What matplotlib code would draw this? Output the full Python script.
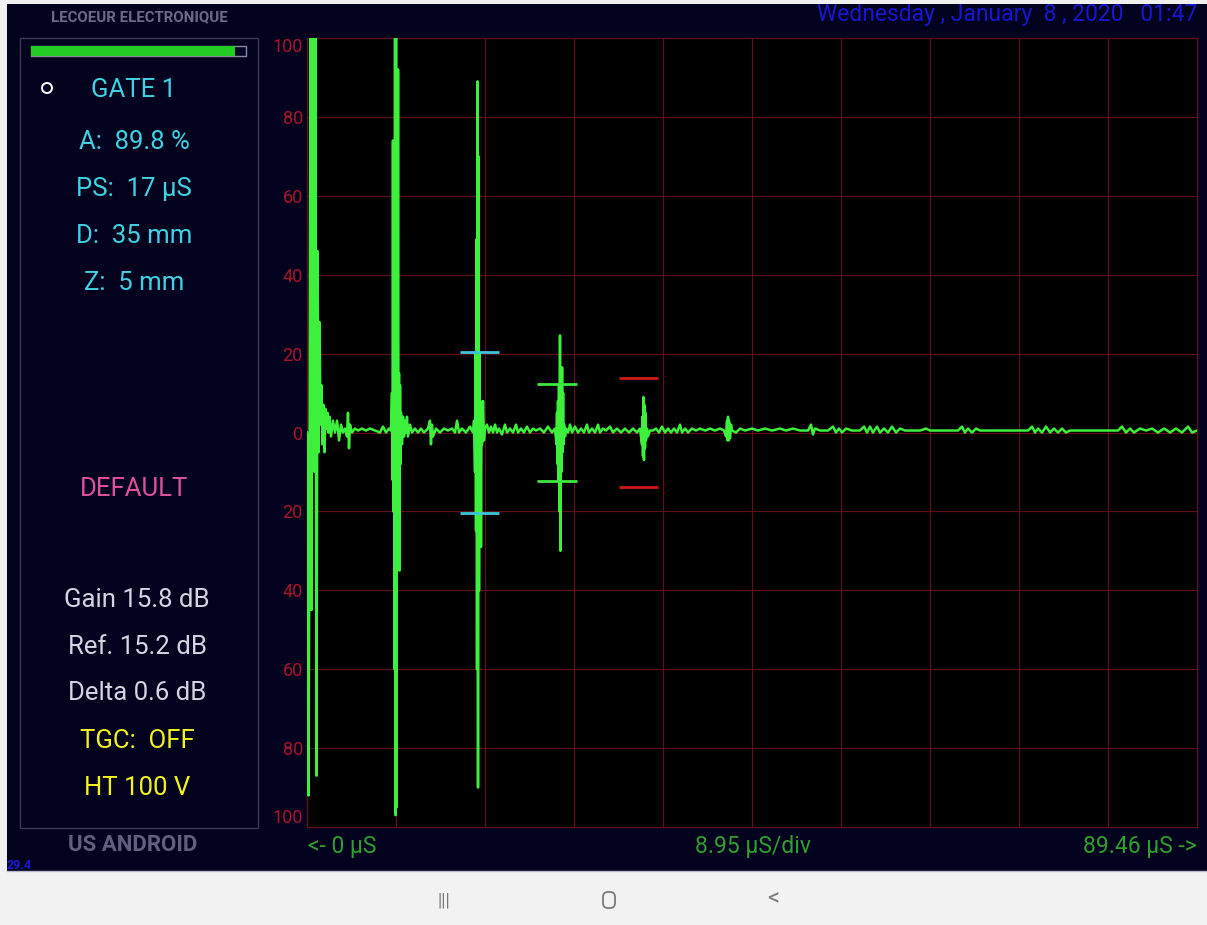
import matplotlib
matplotlib.use("Agg")
import matplotlib.pyplot as plt
from matplotlib import font_manager as fm
from matplotlib.patches import Rectangle, Circle, FancyBboxPatch

# --- data ---
full_scale_us = 89.46
div_us = 8.95
y_ticks = [-100, -80, -60, -40, -20, 0, 20, 40, 60, 80, 100]

# A-scan trace: time (us) and amplitude (% screen height)
trace_t = [
    0.00, 0.10, 0.15, 0.25, 0.35, 0.45, 0.55, 0.65, 0.75, 0.85, 0.95, 1.06, 1.16, 1.26, 1.36, 1.46,
    1.56, 1.66, 1.76, 1.86, 1.96, 2.06, 2.16, 2.26, 2.41, 2.61, 2.81, 3.02, 3.22, 3.42, 3.62, 3.82,
    4.02, 4.12, 4.22, 4.32, 4.52, 4.82, 5.13, 5.53, 5.93, 6.33, 6.84, 7.34, 7.64, 7.94, 8.24, 8.44,
    8.54, 8.59, 8.64, 8.69, 8.75, 8.80, 8.85, 8.90, 8.95, 9.00, 9.05, 9.10, 9.15, 9.20, 9.25, 9.30,
    9.35, 9.40, 9.45, 9.55, 9.65, 9.75, 9.85, 9.95, 10.05, 10.15, 10.35, 10.55, 10.85, 11.16, 11.46,
    11.76, 12.16, 12.36, 12.46, 12.56, 12.66, 12.97, 13.37, 13.77, 14.17, 14.58, 14.88, 15.08, 15.28,
    15.58, 15.98, 16.38, 16.68,
    16.79, 16.89, 16.94, 16.99, 17.04, 17.09, 17.14, 17.19, 17.24, 17.29, 17.34, 17.39, 17.44, 17.49,
    17.54, 17.59, 17.69, 17.79, 17.89, 18.09, 18.29, 18.49, 18.70, 18.90, 19.10, 19.30, 19.60, 19.90,
    20.10, 20.41, 20.71, 21.01, 21.21, 21.51, 21.81, 22.11, 22.41, 22.72, 23.02, 23.42, 23.82, 24.22,
    24.62, 24.92,
    25.08, 25.13, 25.18, 25.23, 25.28, 25.33, 25.38, 25.43, 25.48, 25.53, 25.58, 25.64, 25.69, 25.74,
    25.79, 25.84, 25.94, 26.04, 26.24, 26.44, 26.64, 26.94, 27.24, 27.54, 27.84, 28.14, 28.34, 28.65,
    28.95, 29.25, 29.45, 29.75, 30.05, 30.46, 30.76, 31.16, 31.56, 31.96, 32.37, 32.77, 33.17, 33.47,
    33.67, 33.72, 33.77, 33.82, 33.87, 33.92, 33.97, 34.02, 34.07, 34.17, 34.27, 34.47, 34.78, 35.08,
    35.38, 35.68, 35.99, 36.29, 36.59, 36.89, 37.19, 37.49, 37.70, 38.00, 38.30, 38.70, 39.10, 39.50,
    40.01, 40.51, 41.01, 41.51, 41.92,
    42.12, 42.22, 42.27, 42.32, 42.37, 42.42, 42.52, 42.62, 42.72, 43.12, 43.53, 44.03, 44.73, 45.33,
    46.04, 46.74, 47.55, 48.15, 48.85, 49.56, 50.36, 50.66, 50.86, 51.06, 51.57, 52.37, 52.87, 53.17,
    53.47, 53.78, 54.18, 54.78, 55.59, 55.99, 56.29, 56.59, 56.89, 57.30, 57.60, 58.00, 58.40, 58.80,
    59.21, 59.61, 60.11, 60.81, 61.62, 62.22, 62.62, 63.63, 64.63, 65.44, 65.84, 66.14, 66.44, 66.85,
    67.25, 67.65, 69.16, 70.67, 72.48, 72.88, 73.18, 73.48, 73.88, 74.29, 74.69, 75.09, 75.49, 75.89,
    76.29, 76.70, 78.20, 79.71, 81.52, 81.92, 82.32, 82.73, 83.13, 83.73, 84.34, 84.94, 85.54, 86.15,
    86.75, 87.35, 87.95, 88.56, 88.96, 89.46,
]
trace_amp = [
    0, -3, -92, -20, 100, -45, 100, 95, -10, 100, -87, 46, -5, 28, 2, 12,
    -3, 7, -5, 6, 1, 5, 0, 4, -1, 3, 0, 3, -2, 2, 0, 1,
    -1, 5, -4, 2, 0, 1, 0.5, 1, 0.5, 1, 0.5, 0, 1.5, 0, 1, 0.5,
    10, -12, 74, -20, 40, -60, 100, -97, 100, -95, 60, -30, 92, -15, 15, -35,
    12, -8, 5, -3, 4, -1, 3, 0, 4, -1, 2, 0, 1, 0, 1,
    0, 1, 3, -3, 2, -1, 1, 0, 1, 0.5, 1, 0, 3, 0,
    1, 0, 1.5, 0,
    3, -10, 20, -25, 49, -60, 89, -90, 70, -40, 20, -20, 8, -29,
    4, -3, 8, -2, 1, 2, 0, 1.5, 0, 2, 0, 1, -0.5, 2,
    0, 1, 0, 2, 0, 1, 0, 1.5, 0, 1, 0.5, 1, 0, 1.5,
    0, 1,
    -3, 5, -8, 8, -12, 12, -20, 24.6, -30, 15, -10, 16.5, -5, 10,
    -3, 2, -1, 1, 0, 2, 0, 1.5, 0, 1, 0, 2, 0, 1,
    0, 2, 0, 1, 0.5, 1.5, 0, 1, 0, 1, 0, 1, 0, 1,
    -3, 4, -6, 9, -7, 7, -4, 5, -2, 1, -1, 0.5, 0.5, 1,
    0, 1.5, 0, 1, 0, 1, 0, 2, 0, 1, 0, 1, 0.5, 1,
    0.5, 1, 0.5, 1, 0.5,
    -1, 3, -2, 4, -2, 3, -1.5, 2, 0.5, 0, 1, 0.5, 1, 0.5,
    1, 0.5, 1, 0.5, 1, 0.5, 0.5, 2, -0.5, 1, 0.5, 0.5, 1.5, 0,
    1, 0, 1, 0.5, 0.5, 1.5, 0, 1.5, 0, 1.5, 0, 1, 0, 1.5,
    0, 1, 0.5, 0.5, 0.5, 1, 0.5, 0.5, 0.5, 0.5, 1.5, 0, 1, 0,
    1, 0.5, 0.5, 0.5, 0.5, 1.5, 0, 1, 0, 1.5, 0, 1, 0, 1,
    0, 0.5, 0.5, 0.5, 0.5, 1.5, 0, 1, 0, 1, 0.5, 1, 0, 1,
    0, 1, 0, 1.5, 0, 0.5,
]

# gates: start / end time (us) and threshold (+/- %)
gate_start = [15.38, 23.12, 31.36]
gate_end = [19.30, 27.14, 35.28]
gate_level = [20.5, 12.2, 13.8]
gate_colors = ["#3cc6da", "#3ee83e", "#d01818"]

panel_top = [("GATE 1", 90), ("A:  89.8 %", 142), ("PS:  17 µS", 189),
             ("D:  35 mm", 236), ("Z:  5 mm", 283)]
panel_bottom = [("Gain 15.8 dB", 600, "#d4d4e2"), ("Ref. 15.2 dB", 647, "#d4d4e2"),
                ("Delta 0.6 dB", 693, "#d4d4e2"), ("TGC:  OFF", 741, "#f2f21e"),
                ("HT 100 V", 788, "#f2f21e")]
gain_bar = 0.95

# --- fonts ---
names = {f.name for f in fm.fontManager.ttflist}
narrow = "Liberation Sans Narrow" if "Liberation Sans Narrow" in names else "Roboto"
fam = [narrow, "DejaVu Sans"]

navy = "#02021e"
W, H = 1207, 925
fig = plt.figure(figsize=(W / 100, H / 100), dpi=100, facecolor=navy)

# background layer in pixel coordinates
bg = fig.add_axes([0, 0, 1, 1])
bg.set_xlim(0, W)
bg.set_ylim(H, 0)
bg.axis("off")

# left panel frame
bg.add_patch(Rectangle((20, 38), 238, 790, fill=False, ec="#3a3a58", lw=1))
bg.add_patch(Rectangle((31, 46), 215, 10, fc="#05052a", ec="#8a8aa0", lw=1))
bg.add_patch(Rectangle((31, 46), 215 * gain_bar, 10, fc="#22cc22", lw=0))
bg.add_patch(Circle((47, 88), 5, fill=False, ec="white", lw=1.4))

bg.text(139, 17, "LECOEUR ELECTRONIQUE", color="#6a6a88", fontsize=10.8,
        fontweight="bold", family=fam, ha="center", va="center")
bg.text(1197, 15, "Wednesday , January  8 , 2020   01:47", color="#1616d2",
        fontsize=16.5, family=fam, ha="right", va="center")

for label, y in panel_top:
    bg.text(134, y, label, color="#3ed2e4", fontsize=18.5, family=fam,
            ha="center", va="center")
bg.text(134, 489, "DEFAULT", color="#e0509c", fontsize=18.5, family=fam,
        ha="center", va="center")
for label, y, c in panel_bottom:
    bg.text(137, y, label, color=c, fontsize=18.5, family=fam,
            ha="center", va="center")
bg.text(133, 845, "US ANDROID", color="#60607e", fontsize=16, fontweight="bold",
        family=fam, ha="center", va="center")
bg.text(7, 872, "29.4", color="#1a1ad8", fontsize=9, fontweight="bold",
        family=fam, ha="left", va="bottom")

# screen edges: light strips and android nav bar (drawn over the text)
bg.add_patch(Rectangle((0, 0), 7, H, color="#f0f0f0", lw=0, zorder=5))
bg.add_patch(Rectangle((0, 0), W, 4, color="#f0f0f0", lw=0, zorder=5))
bg.add_patch(Rectangle((0, 871), W, H - 871, color="#f2f2f2", lw=0, zorder=5))
bg.plot([7, W], [871, 871], color="#b8b8d0", lw=1, zorder=6)

green_txt = "#2f9f2f"
bg.text(308, 846, "<- 0 µS", color=green_txt, fontsize=16.5, family=fam,
        ha="left", va="center")
bg.text(753, 846, f"{div_us:.2f} µS/div", color=green_txt, fontsize=16.5,
        family=fam, ha="center", va="center")
bg.text(1197, 846, f"{full_scale_us:.2f} µS ->", color=green_txt, fontsize=16.5,
        family=fam, ha="right", va="center")

# android nav bar icons
nav = "#7a7a7a"
bg.text(444, 900, "|||", color=nav, fontsize=13, family=fam, ha="center",
        va="center", zorder=7)
bg.add_patch(FancyBboxPatch((603, 892), 12, 16, boxstyle="round,pad=0,rounding_size=5",
                            fill=False, ec=nav, lw=1.3, zorder=7))
bg.text(773, 899, "<", color=nav, fontsize=17, family=fam, ha="center",
        va="center", zorder=7)

# A-scan screen
ax = fig.add_axes([307 / W, (H - 827) / H, 890 / W, 789 / H])
ax.set_facecolor("black")
ax.set_xlim(0, full_scale_us)
ax.set_ylim(-100, 100)
grid_c = "#5e1018"
for i in range(1, 10):
    ax.axvline(i * full_scale_us / 10, color=grid_c, lw=0.9, zorder=1)
for v in y_ticks[1:-1]:
    ax.axhline(v, color=grid_c, lw=0.9, zorder=1)
for s in ax.spines.values():
    s.set_color(grid_c)
    s.set_linewidth(1)

ax.plot(trace_t, trace_amp, color="#3cf03c", lw=1.8, zorder=3)

for t0, t1, lev, c in zip(gate_start, gate_end, gate_level, gate_colors):
    ax.hlines([lev, -lev], t0, t1, color=c, lw=2, zorder=4)

ax.set_xticks([])
ax.set_yticks(y_ticks)
ax.set_yticklabels([str(abs(v)) for v in y_ticks], color="#a8142a",
                   fontsize=13, family=fam)
ax.tick_params(axis="y", length=0, pad=3)
labels = ax.get_yticklabels()
labels[0].set_va("bottom")
labels[-1].set_va("top")

fig.savefig("out.png", dpi=100, facecolor=navy)
